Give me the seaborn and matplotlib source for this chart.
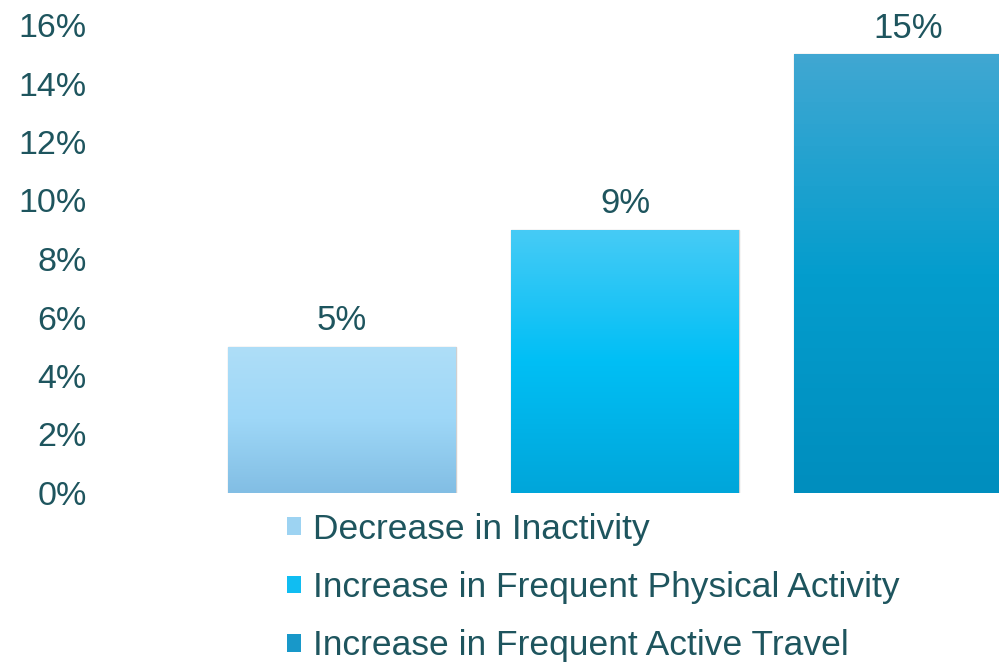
import matplotlib.pyplot as plt
import seaborn as sns
import numpy as np
import pandas as pd
from matplotlib.patches import Patch
from matplotlib.colors import LinearSegmentedColormap

categories = ['Decrease in Inactivity', 'Increase in Frequent Physical Activity',
              'Increase in Frequent Active Travel']
values = [5, 9, 15]
labels = ['5%', '9%', '15%']
yticks = [0, 2, 4, 6, 8, 10, 12, 14, 16]
# (bottom, middle, top) colours of each bar's gradient, and its legend swatch
grad = [('#82BEE4', '#9ED7F7', '#AEDEF8'),
        ('#00A6DA', '#00BFF5', '#46CBF6'),
        ('#008EBE', '#049DCD', '#40A7D2')]
swatch = ['#9DD3F2', '#10BDF2', '#1898C9']

text_col = '#1E555E'
sns.set_style('white')
plt.rcParams['font.family'] = ['Liberation Sans', 'DejaVu Sans']

df = pd.DataFrame({'cat': categories, 'val': values})

fig = plt.figure(figsize=(9.99, 6.64), dpi=100)
ax = fig.add_axes([0.095, 1 - 493 / 664, 0.905, (493 - 25) / 664])

sns.barplot(data=df, x='cat', y='val', hue='cat', palette=swatch, width=0.805,
            legend=False, ax=ax, edgecolor='#CFCFCF', linewidth=1)

# gradient fill clipped to each bar
for patch, stops in zip(ax.patches, grad):
    cmap = LinearSegmentedColormap.from_list('g', list(stops))
    x0, y0 = patch.get_x(), patch.get_y()
    w, h = patch.get_width(), patch.get_height()
    im = ax.imshow(np.linspace(0, 1, 100).reshape(-1, 1), cmap=cmap, aspect='auto',
                   origin='lower', extent=[x0, x0 + w, y0, y0 + h], zorder=patch.get_zorder())
    im.set_clip_path(patch)

for cont, lab in zip(ax.containers, labels):
    ax.bar_label(cont, labels=[lab], padding=7, fontsize=25, color=text_col)

ax.set_ylim(0, 16)
ax.set_xlim((95 - 342) / 283, (999 - 342) / 283)
ax.set_yticks(yticks)
ax.set_yticklabels([f'{t}%' for t in yticks], fontsize=24.5, color=text_col)
ax.set_xticks([])
ax.set_xlabel('')
ax.set_ylabel('')
ax.tick_params(axis='y', length=0, pad=6)
sns.despine(ax=ax, left=True, bottom=True)

handles = [Patch(facecolor=c, edgecolor='none') for c in swatch]
fig.legend(handles, categories, loc='upper left', bbox_to_anchor=(287 / 999, 1 - 513 / 664),
           frameon=False, fontsize=25.5, labelcolor=text_col, handlelength=0.4,
           handleheight=0.4, handletextpad=0.34, labelspacing=0.71, borderpad=0,
           borderaxespad=0)

fig.savefig('out.png', dpi=100)
